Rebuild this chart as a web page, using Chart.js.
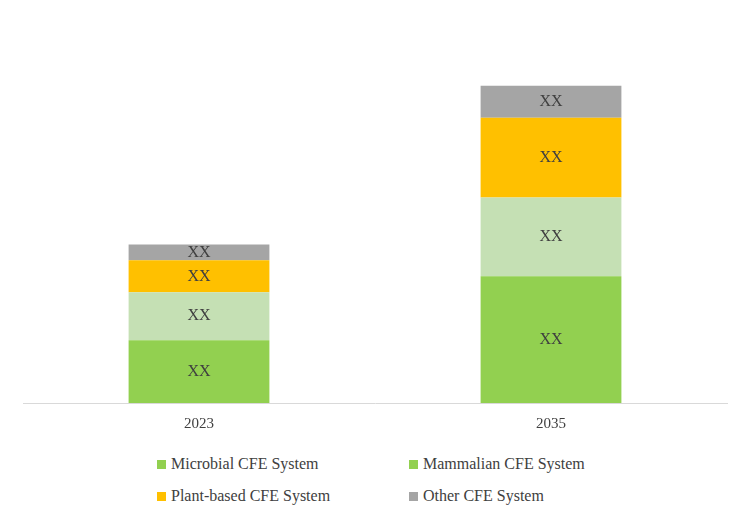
<!DOCTYPE html>
<html><head><meta charset="utf-8">
<script src="https://cdn.jsdelivr.net/npm/chart.js@4/dist/chart.umd.min.js"></script>
<style>
body{margin:0;background:#fff;width:750px;height:525px;position:relative;overflow:hidden;font-family:"Liberation Serif","Times New Roman",serif}
#wrap{position:absolute;left:0;top:0;width:750px;height:445px}
.lg{position:absolute;font-size:16px;color:#404040;display:flex;align-items:center}
.sw{width:9px;height:9px;margin-right:5px;display:inline-block}
</style></head><body>
<div id="wrap"><canvas id="c"></canvas></div>
<div class="lg" style="left:157px;top:455px"><span class="sw" style="background:#92d050"></span>Microbial CFE System</div>
<div class="lg" style="left:409px;top:455px"><span class="sw" style="background:#92d050"></span>Mammalian CFE System</div>
<div class="lg" style="left:157px;top:487px"><span class="sw" style="background:#ffc000"></span>Plant-based CFE System</div>
<div class="lg" style="left:409px;top:487px"><span class="sw" style="background:#a5a5a5"></span>Other CFE System</div>
<script>
const categories=["2023","2035"];
const microbial=[63,127];
const mammalian=[48,79];
const plantBased=[32,80];
const other=[16,32];
const seriesNames=["Microbial CFE System","Mammalian CFE System","Plant-based CFE System","Other CFE System"];
const colors=["#92d050","#c5e0b4","#ffc000","#a5a5a5"];
const labelPlugin={id:"xx",afterDatasetsDraw(chart){
  const ctx=chart.ctx;ctx.save();ctx.fillStyle="#404040";ctx.font="16px 'Liberation Serif'";ctx.textAlign="center";ctx.textBaseline="middle";
  chart.data.datasets.forEach((d,i)=>{chart.getDatasetMeta(i).data.forEach(b=>{ctx.fillText("XX",b.x,(b.y+b.base)/2);});});
  ctx.restore();}};
new Chart(document.getElementById("c"),{type:"bar",
 data:{labels:categories,datasets:[microbial,mammalian,plantBased,other].map((v,i)=>({label:seriesNames[i],data:v,backgroundColor:colors[i],barPercentage:0.4,categoryPercentage:1}))},
 options:{responsive:true,maintainAspectRatio:false,animation:false,
  layout:{padding:{left:23,right:23,top:20,bottom:0}},
  plugins:{legend:{display:false},tooltip:{enabled:false}},
  scales:{x:{stacked:true,grid:{display:false,drawTicks:false},border:{color:"#d9d9d9",width:1},
     ticks:{color:"#404040",font:{family:"Liberation Serif",size:15},padding:12}},
   y:{stacked:true,display:false,min:0,max:384}}},
 plugins:[labelPlugin]});
</script></body></html>
